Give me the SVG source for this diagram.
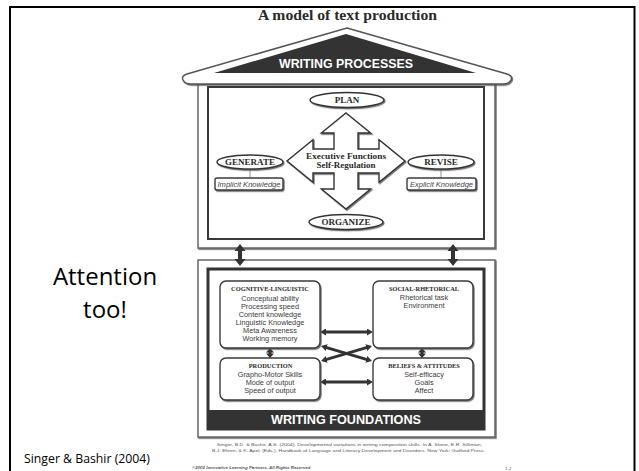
<svg xmlns="http://www.w3.org/2000/svg" width="639" height="471" viewBox="0 0 639 471">
<defs>
<filter id="sh" x="-10%" y="-10%" width="130%" height="150%">
<feDropShadow dx="1" dy="1.2" stdDeviation="0.6" flood-color="#555" flood-opacity="0.8"/>
</filter>
<marker id="ah" viewBox="0 0 6 7" refX="1" refY="3.5" markerWidth="6" markerHeight="7" markerUnits="userSpaceOnUse" orient="auto-start-reverse">
<path d="M0,0 L6,3.5 L0,7 z" fill="#333"/>
</marker>
</defs>
<style>
.frame{fill:#fff;stroke:#666;stroke-width:1.5}
.ser{font-family:"Liberation Serif","Times New Roman",serif;font-weight:bold;fill:#2a2a2a;text-anchor:middle}
.sans{font-family:"Liberation Sans",Arial,sans-serif;fill:#3a3a3a;text-anchor:middle;font-size:7.3px}
.ital{font-family:"Liberation Sans",Arial,sans-serif;font-style:italic;fill:#444;text-anchor:middle;font-size:6.6px}
.box{fill:#fff;stroke:#3a3a3a;stroke-width:1.4}
.ell{fill:#fff;stroke:#333;stroke-width:1.4}
.conn{stroke:#333;stroke-width:3;fill:none}
.thin{stroke:#777;stroke-width:0.8;fill:none}
.band{fill:#fff;font-family:"Liberation Sans",Arial,sans-serif;font-weight:bold;text-anchor:middle}
.ppt{font-family:"Open Sans","Liberation Sans",Arial,sans-serif;fill:#000;text-anchor:middle}
.tiny{font-family:"Liberation Sans",Arial,sans-serif;fill:#555;font-size:4.4px}
</style>
<rect x="0" y="0" width="639" height="471" fill="#fff"/>
<rect x="10" y="7" width="624.5" height="480" fill="none" stroke="#000" stroke-width="2"/>

<text x="347.5" y="20" class="ser" font-size="14" textLength="179" lengthAdjust="spacingAndGlyphs" fill="#222">A model of text production</text>

<g id="writing-processes">
<rect x="198" y="84" width="297" height="164" class="frame" filter="url(#sh)"/>
<path d="M347,28 L507,74 Q513,76 511,80 Q509,84 503,84 L191,84 Q185,84 183,80 Q181,76 187,74 Z" fill="#fff" stroke="#555" stroke-width="1.5" filter="url(#sh)"/>
<polygon points="346,34 476,73 214,73" fill="#333"/>
<text x="346" y="68" class="band" font-size="12" textLength="134" lengthAdjust="spacingAndGlyphs">WRITING PROCESSES</text>
<rect x="208" y="87" width="276" height="152" fill="#fff" stroke="#3a3a3a" stroke-width="2"/>
</g>

<g id="writing-foundations">
<rect x="198" y="260" width="297" height="177" class="frame" filter="url(#sh)"/>
<rect x="208" y="269" width="276" height="160" fill="#fff" stroke="#333" stroke-width="3"/>
<rect x="208" y="410" width="276" height="19" fill="#333"/>
<text x="346" y="424" class="band" font-size="12.6" textLength="150" lengthAdjust="spacingAndGlyphs">WRITING FOUNDATIONS</text>
</g>

<g id="connectors">
<path d="M240,244 L245.5,251 L242,251 L242,259 L245.5,259 L240,266 L234.5,259 L238,259 L238,251 L234.5,251 Z" fill="#333"/>
<path d="M453,244 L458.5,251 L455,251 L455,259 L458.5,259 L453,266 L447.5,259 L451,259 L451,251 L447.5,251 Z" fill="#333"/>
<line x1="250" y1="169" x2="250" y2="178" class="thin"/>
<line x1="441" y1="169" x2="441" y2="178" class="thin"/>
<line x1="325" y1="332" x2="368" y2="332" class="conn" marker-start="url(#ah)" marker-end="url(#ah)"/>
<line x1="325.8" y1="347.4" x2="367.2" y2="359.6" class="conn" marker-start="url(#ah)" marker-end="url(#ah)"/>
<line x1="325.8" y1="359.6" x2="367.2" y2="347.4" class="conn" marker-start="url(#ah)" marker-end="url(#ah)"/>
<line x1="325" y1="382" x2="368" y2="382" class="conn" marker-start="url(#ah)" marker-end="url(#ah)"/>
<path d="M270,348 L274,352.5 L271.5,352.5 L271.5,353.5 L274,353.5 L270,358 L266,353.5 L268.5,353.5 L268.5,352.5 L266,352.5 Z" fill="#333"/>
<path d="M422,348 L426,352.5 L423.5,352.5 L423.5,353.5 L426,353.5 L422,358 L418,353.5 L420.5,353.5 L420.5,352.5 L418,352.5 Z" fill="#333"/>
</g>

<g id="plan">
<ellipse cx="347" cy="100" rx="37" ry="7.5" class="ell" filter="url(#sh)"/>
<text x="347" y="103.2" class="ser" font-size="9">PLAN</text>
</g>
<g id="executive-functions">
<polygon points="346,113 370.6,133 358,133 358,149 379,149 379,139.8 405,161 379,182.2 379,173 358,173 358,189 370.6,189 346,209 321.4,189 334,189 334,173 313,173 313,182.2 287,161 313,139.8 313,149 334,149 334,133 321.4,133" fill="#fff" stroke="#333" stroke-width="1.4" filter="url(#sh)"/>
<text x="346" y="159" class="ser" font-size="8.8" textLength="80" lengthAdjust="spacingAndGlyphs">Executive Functions</text>
<text x="346" y="168" class="ser" font-size="8.8" textLength="59" lengthAdjust="spacingAndGlyphs">Self-Regulation</text>
</g>
<g id="generate">
<ellipse cx="250" cy="162" rx="33" ry="7" class="ell" filter="url(#sh)"/>
<text x="250" y="165.2" class="ser" font-size="9">GENERATE</text>
</g>
<g id="implicit-knowledge">
<rect x="215" y="178" width="68" height="12" rx="2" class="box" filter="url(#sh)"/>
<text x="249" y="186.5" class="ital" textLength="63" lengthAdjust="spacingAndGlyphs">Implicit Knowledge</text>
</g>
<g id="revise">
<ellipse cx="441" cy="162" rx="33" ry="7" class="ell" filter="url(#sh)"/>
<text x="441" y="165.2" class="ser" font-size="9">REVISE</text>
</g>
<g id="explicit-knowledge">
<rect x="407" y="178" width="69" height="12" rx="2" class="box" filter="url(#sh)"/>
<text x="441.5" y="186.5" class="ital" textLength="63" lengthAdjust="spacingAndGlyphs">Explicit Knowledge</text>
</g>
<g id="organize">
<ellipse cx="346" cy="222" rx="37" ry="7.5" class="ell" filter="url(#sh)"/>
<text x="346" y="225.2" class="ser" font-size="9">ORGANIZE</text>
</g>

<g id="cognitive-linguistic">
<rect x="220" y="281" width="100" height="67" rx="6" class="box" filter="url(#sh)"/>
<text x="270" y="291" class="ser" font-size="6.4">COGNITIVE-LINGUISTIC</text>
<text x="270" y="301" class="sans">Conceptual ability</text>
<text x="270" y="309" class="sans">Processing speed</text>
<text x="270" y="317" class="sans">Content knowledge</text>
<text x="270" y="325" class="sans">Linguistic Knowledge</text>
<text x="270" y="333" class="sans">Meta Awareness</text>
<text x="270" y="341" class="sans">Working memory</text>
</g>
<g id="social-rhetorical">
<rect x="373" y="281" width="100" height="67" rx="6" class="box" filter="url(#sh)"/>
<text x="424" y="291" class="ser" font-size="6.4">SOCIAL-RHETORICAL</text>
<text x="424" y="300" class="sans">Rhetorical task</text>
<text x="424" y="308" class="sans">Environment</text>
</g>
<g id="production">
<rect x="220" y="358" width="100" height="42" rx="6" class="box" filter="url(#sh)"/>
<text x="270.5" y="368" class="ser" font-size="6.4">PRODUCTION</text>
<text x="270" y="377" class="sans">Grapho-Motor Skills</text>
<text x="270" y="385" class="sans">Mode of output</text>
<text x="270" y="393" class="sans">Speed of output</text>
</g>
<g id="beliefs-attitudes">
<rect x="373" y="358" width="100" height="42" rx="6" class="box" filter="url(#sh)"/>
<text x="424" y="368" class="ser" font-size="6.4">BELIEFS &amp; ATTITUDES</text>
<text x="424" y="377" class="sans">Self-efficacy</text>
<text x="424" y="385" class="sans">Goals</text>
<text x="424" y="393" class="sans">Affect</text>
</g>

<g id="notes">
<text x="105" y="285" class="ppt" font-size="24">Attention</text>
<text x="105" y="318" class="ppt" font-size="24">too!</text>
<text x="24" y="463" font-family="'Open Sans','Liberation Sans',Arial,sans-serif" font-size="12.3" textLength="126" lengthAdjust="spacingAndGlyphs" fill="#000">Singer &amp; Bashir (2004)</text>
<text x="217" y="446" class="tiny" textLength="265" lengthAdjust="spacingAndGlyphs">Singer, B.D. &amp; Bashir, A.S. (2004).  Developmental variations in writing composition skills. In A. Stone, E.R. Silliman,</text>
<text x="212" y="452" class="tiny" textLength="273" lengthAdjust="spacingAndGlyphs">B.J. Ehren, &amp; K. Apel, (Eds.), Handbook of Language and Literacy Development and Disorders.  New York: Guilford Press.</text>
<text x="192" y="469" class="tiny" font-style="italic" font-weight="bold" font-size="3.8">©2002 Innovative Learning Partners, All Rights Reserved</text>
<text x="505" y="470" class="tiny">1-2</text>
</g>
</svg>
